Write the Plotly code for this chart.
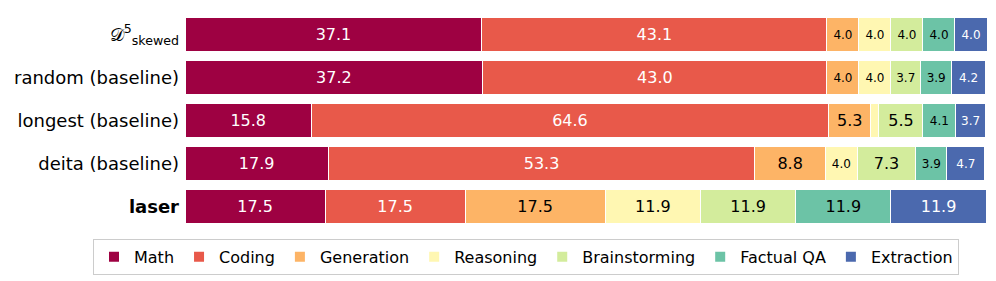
import plotly.graph_objects as go

rows = ["𝒟<sup>5</sup><sub>skewed</sub>", "random (baseline)", "longest (baseline)",
        "deita (baseline)", "<b>laser</b>"]
categories = ["Math", "Coding", "Generation", "Reasoning", "Brainstorming", "Factual QA", "Extraction"]

math = [37.1, 37.2, 15.8, 17.9, 17.5]
coding = [43.1, 43.0, 64.6, 53.3, 17.5]
generation = [4.0, 4.0, 5.3, 8.8, 17.5]
reasoning = [4.0, 4.0, 1.0, 4.0, 11.9]
brainstorming = [4.0, 3.7, 5.5, 7.3, 11.9]
factual_qa = [4.0, 3.9, 4.1, 3.9, 11.9]
extraction = [4.0, 4.2, 3.7, 4.7, 11.9]

series = [math, coding, generation, reasoning, brainstorming, factual_qa, extraction]
colors = ["#9e0142", "#e8594a", "#fdb466", "#fff7b2", "#d3ec9c", "#6cc3a6", "#4b69ae"]
text_colors = ["white", "white", "black", "black", "black", "black", "white"]

totals = [sum(s[i] for s in series) for i in range(len(rows))]

fig = go.Figure()
for name, vals, col, tcol in zip(categories, series, colors, text_colors):
    labels = [f"{v:.1f}" if v >= 2 else " " for v in vals]
    sizes = [16 if v >= 5 else 12 for v in vals]
    fig.add_trace(go.Bar(
        y=rows, x=vals, name=name, orientation="h",
        marker=dict(color=col, line=dict(color="white", width=1)),
        text=labels, textposition="inside", insidetextanchor="middle",
        textangle=0, textfont=dict(color=tcol, size=sizes, family="DejaVu Sans"),
        hoverinfo="x+name",
    ))

# page body has an 8px default margin, so the figure is 8px smaller and offset
fig.update_layout(
    barmode="stack",
    bargap=0.22,
    width=988, height=273,
    margin=dict(l=177, r=9, t=5, b=53),
    plot_bgcolor="white", paper_bgcolor="white",
    font=dict(family="DejaVu Sans", size=16, color="black"),
    xaxis=dict(range=[0, max(totals)], visible=False, fixedrange=True),
    yaxis=dict(categoryorder="array", categoryarray=rows, autorange="reversed",
               tickfont=dict(size=18, color="black"), ticks="", showline=False,
               showgrid=False, ticklabelstandoff=5, automargin=False),
    legend=dict(orientation="h", x=-0.1147, xanchor="left", y=-0.05, yanchor="top",
                bordercolor="#cccccc", borderwidth=1, font=dict(size=16),
                itemsizing="constant", traceorder="normal"),
    showlegend=True,
)

fig.write_html("out.html")
